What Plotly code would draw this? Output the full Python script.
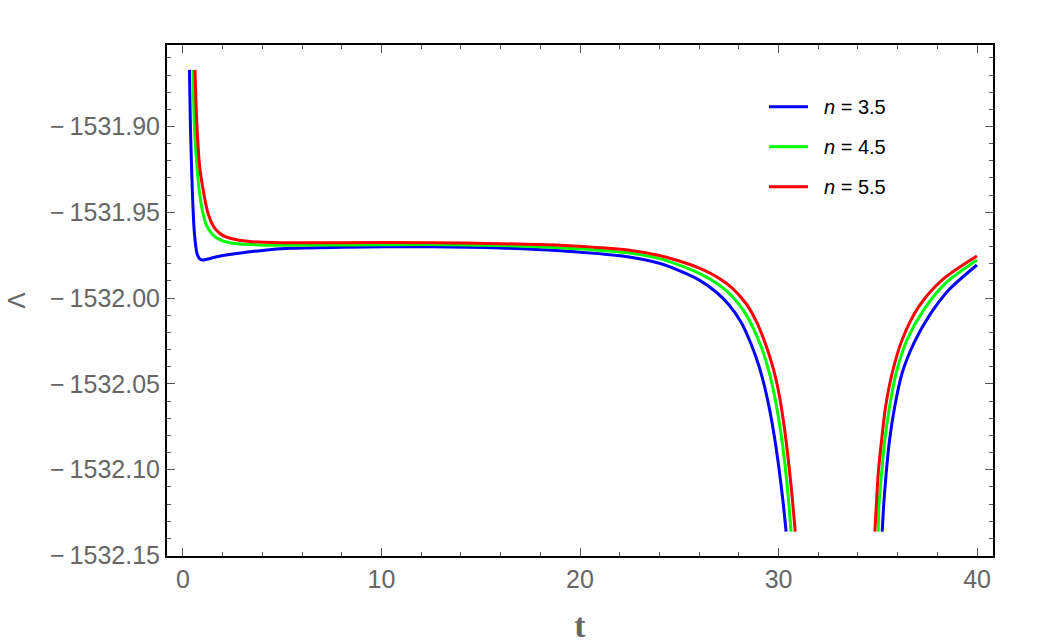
import plotly.graph_objects as go

# ---- data ----
series_names = ["n = 3.5", "n = 4.5", "n = 5.5"]
series_colors = ["#0000ff", "#00ff00", "#ff0000"]

blue_t1 = [0.33, 0.38, 0.48, 0.58, 0.71, 0.85, 0.98, 1.2, 1.6, 2.0, 2.73, 4.0, 5.41, 8.0, 12.5, 16.0, 19.0, 22.4, 24.0, 25.0, 26.01, 26.84, 27.51, 28.10, 28.60, 29.00, 29.30, 29.55, 29.80, 30.02, 30.22, 30.38]
blue_y1 = [-1531.867, -1531.900, -1531.9388, -1531.9621, -1531.9740, -1531.9772, -1531.9778, -1531.9774, -1531.9762, -1531.9752, -1531.9740, -1531.9722, -1531.9710, -1531.9703, -1531.9701, -1531.9708, -1531.9724, -1531.9759, -1531.9797, -1531.9840, -1531.9895, -1531.9963, -1532.0040, -1532.0138, -1532.0263, -1532.0391, -1532.0517, -1532.0650, -1532.0815, -1532.0991, -1532.1181, -1532.1361]
blue_t2 = [35.22, 35.29, 35.42, 35.59, 35.85, 36.22, 36.81, 37.56, 38.57, 39.99]
blue_y2 = [-1532.1361, -1532.1216, -1532.1021, -1532.0827, -1532.0633, -1532.0438, -1532.0264, -1532.0108, -1531.9953, -1531.9807]

green_t1 = [0.51, 0.58, 0.70, 0.84, 1.0, 1.22, 1.5, 1.88, 2.5, 3.5, 4.9, 8.0, 12.5, 16.0, 19.0, 22.4, 24.0, 25.0, 26.01, 27.01, 27.68, 28.27, 28.77, 29.19, 29.52, 29.78, 30.07, 30.30, 30.48, 30.63]
green_y1 = [-1531.867, -1531.900, -1531.922, -1531.9388, -1531.950, -1531.9584, -1531.963, -1531.9661, -1531.9680, -1531.9688, -1531.9692, -1531.9690, -1531.9688, -1531.9694, -1531.9706, -1531.9736, -1531.9770, -1531.9808, -1531.9856, -1531.9924, -1531.9992, -1532.0079, -1532.0186, -1532.0304, -1532.0429, -1532.0559, -1532.0750, -1532.0946, -1532.1150, -1532.1361]
green_t2 = [35.02, 35.05, 35.19, 35.35, 35.59, 35.92, 36.47, 37.31, 38.40, 39.99]
green_y2 = [-1532.1361, -1532.1216, -1532.1021, -1532.0827, -1532.0633, -1532.0438, -1532.0244, -1532.0069, -1531.9914, -1531.9778]

red_t1 = [0.61, 0.71, 0.85, 1.05, 1.25, 1.55, 1.85, 2.14, 2.7, 3.5, 4.9, 8.0, 12.5, 16.0, 19.0, 21.0, 22.4, 24.0, 25.0, 26.01, 27.01, 27.68, 28.35, 28.85, 29.27, 29.61, 29.86, 30.08, 30.33, 30.53, 30.70, 30.84]
red_y1 = [-1531.867, -1531.900, -1531.924, -1531.9388, -1531.950, -1531.9584, -1531.9622, -1531.9642, -1531.9660, -1531.9671, -1531.9677, -1531.9677, -1531.9677, -1531.9683, -1531.9692, -1531.9706, -1531.9720, -1531.9752, -1531.9784, -1531.9826, -1531.9885, -1531.9943, -1532.0030, -1532.0128, -1532.0244, -1532.0361, -1532.0468, -1532.0594, -1532.0788, -1532.0983, -1532.1177, -1532.1361]
red_t2 = [34.85, 34.92, 35.02, 35.19, 35.39, 35.72, 36.22, 37.06, 38.23, 39.99]
red_y2 = [-1532.1361, -1532.1216, -1532.1021, -1532.0827, -1532.0633, -1532.0438, -1532.0244, -1532.0050, -1531.9895, -1531.9755]

x_tick_vals = [0, 10, 20, 30, 40]
y_tick_vals = [-1531.90, -1531.95, -1532.00, -1532.05, -1532.10, -1532.15]
y_tick_text = ["\u2212\u20091531.90", "\u2212\u20091531.95", "\u2212\u20091532.00",
               "\u2212\u20091532.05", "\u2212\u20091532.10", "\u2212\u20091532.15"]

series = [
    (blue_t1, blue_y1, blue_t2, blue_y2),
    (green_t1, green_y1, green_t2, green_y2),
    (red_t1, red_y1, red_t2, red_y2),
]

fig = go.Figure()
for i, (t1, y1, t2, y2) in enumerate(series):
    fig.add_trace(go.Scatter(
        x=t1 + [None] + t2, y=y1 + [None] + y2,
        mode="lines", name=series_names[i], connectgaps=False, showlegend=False,
        line=dict(color=series_colors[i], width=3, shape="spline", smoothing=0.8),
    ))

# hand-drawn legend (Mathematica style: long sample line, gap, italic n)
leg_x0, leg_x1, leg_tx = 0.7288, 0.7760, 0.7926
leg_ys = [0.8793, 0.8010, 0.7227]
for i, name in enumerate(series_names):
    fig.add_shape(type="line", xref="paper", yref="paper",
                  x0=leg_x0, x1=leg_x1, y0=leg_ys[i], y1=leg_ys[i],
                  line=dict(color=series_colors[i], width=3))
    fig.add_annotation(xref="paper", yref="paper", x=leg_tx, y=leg_ys[i],
                       xanchor="left", yanchor="middle", showarrow=False,
                       text="<i>n</i>" + name[1:],
                       font=dict(size=20, color="black", family="Liberation Sans, Arial, sans-serif"))

tick_gray = "#555555"
label_gray = "#666666"
fig.update_layout(
    width=1042, height=644,
    margin=dict(l=167, r=49, t=45, b=88),
    paper_bgcolor="white", plot_bgcolor="white",
    font=dict(family="Liberation Sans, Arial, sans-serif", color=label_gray),
    showlegend=False,
    xaxis=dict(
        range=[-0.8, 40.8], tickvals=x_tick_vals, automargin=False,
        ticks="inside", ticklen=8, tickwidth=1.2, tickcolor=tick_gray,
        minor=dict(dtick=2, ticks="inside", ticklen=4, tickwidth=1, tickcolor=tick_gray),
        showline=True, linecolor="black", linewidth=2, mirror="ticks",
        showgrid=False, zeroline=False,
        tickfont=dict(size=25, color=label_gray),
        title=dict(text="<b>t</b>", font=dict(family="Liberation Serif, Times New Roman, serif", size=34, color=label_gray), standoff=26),
    ),
    yaxis=dict(
        range=[-1532.1503, -1531.8525], tickvals=y_tick_vals, ticktext=y_tick_text,
        ticks="inside", ticklen=8, tickwidth=1.2, tickcolor=tick_gray,
        minor=dict(dtick=0.01, tick0=-1531.90, ticks="inside", ticklen=4, tickwidth=1, tickcolor=tick_gray),
        showline=True, linecolor="black", linewidth=2, mirror="ticks",
        showgrid=False, zeroline=False,
        tickfont=dict(size=25, color=label_gray),
        title=dict(text="\u039b", font=dict(size=24, color=label_gray), standoff=18),
    ),
)

fig.write_html("out.html")
